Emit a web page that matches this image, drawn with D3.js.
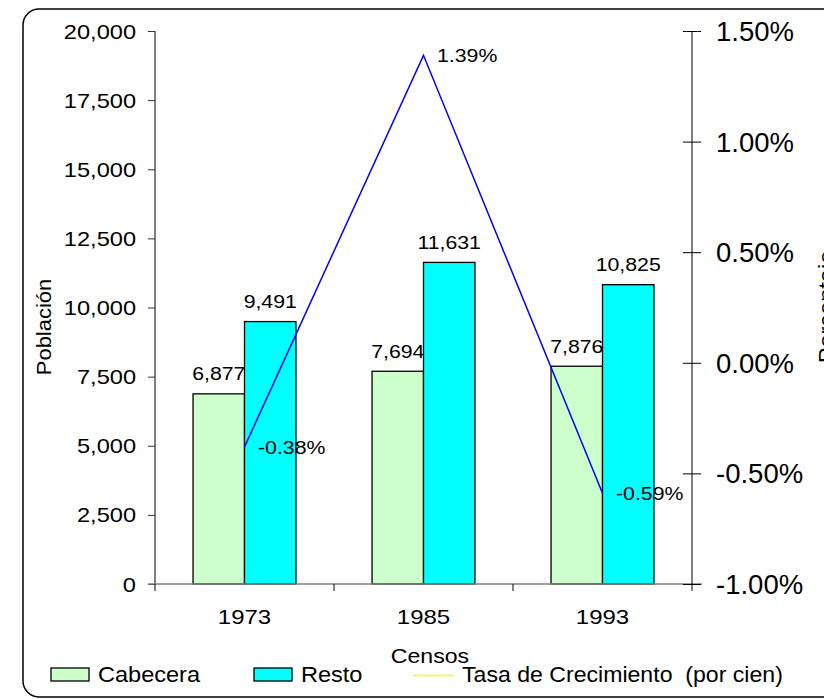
<!DOCTYPE html>
<html><head><meta charset="utf-8">
<script src="https://cdn.jsdelivr.net/npm/d3@7"></script>
<style>body{margin:0;background:#fff}svg{display:block;font-family:"Liberation Sans",Arial,sans-serif}</style>
</head><body>
<svg id="c" width="824" height="699"></svg>
<script>
const years = ["1973","1985","1993"];
const seriesNames = ["Cabecera","Resto"];
const cabecera = [6877, 7694, 7876];
const resto = [9491, 11631, 10825];
const tasa = [-0.38, 1.39, -0.59];
const leftTicks = [0,2500,5000,7500,10000,12500,15000,17500,20000];
const rightTicks = [-1.0,-0.5,0,0.5,1.0,1.5];
const colors = {Cabecera:"#CCFFCC", Resto:"#00FFFF"};

const svg = d3.select("#c");
const L=155, R=692, T=31, B=584;
const x0 = d3.scaleBand().domain(years).range([L,R]);
const bw = x0.bandwidth();
const x1 = d3.scaleBand().domain(seriesNames).range([bw*0.2125, bw*0.7875]);
const yL = d3.scaleLinear().domain([0,20000]).range([B,T]);
const yR = d3.scaleLinear().domain([-1,1.5]).range([B,T]);
const fmt = d3.format(",");
const pct = d => (d<0?"-":"") + Math.abs(d).toFixed(2) + "%";

function txt(g, x, y, s, size, k, anchor, rot){
  return g.append("text").attr("transform",`translate(${x},${y})${rot?` rotate(${rot})`:""} scale(${k},1)`)
    .attr("font-size",size).attr("text-anchor",anchor||"start").attr("fill","#000").text(s);
}

// outer border
svg.append("rect").attr("x",23).attr("y",9).attr("width",840).attr("height",688).attr("rx",16)
  .attr("fill","none").attr("stroke","#000").attr("stroke-width",1.5);

// bars
const data = years.map((y,i)=>({year:y, Cabecera:cabecera[i], Resto:resto[i]}));
const g = svg.append("g");
data.forEach(d=>{
  seriesNames.forEach(s=>{
    const xx = x0(d.year)+x1(s);
    g.append("rect").attr("x",xx).attr("y",yL(d[s])).attr("width",x1.bandwidth()).attr("height",B-yL(d[s]))
      .attr("fill",colors[s]).attr("stroke","#000").attr("stroke-width",1.3);
    txt(g, xx+x1.bandwidth()/2, yL(d[s])-13.5, fmt(d[s]), 18.5, 1.15, "middle");
  });
});

// left axis
const la = svg.append("g").attr("transform",`translate(${L},0)`)
  .call(d3.axisLeft(yL).tickValues(leftTicks).tickSize(7).tickFormat(""));
la.select(".domain").attr("stroke","#000").attr("d",`M0,${T}V${B}`);
la.selectAll(".tick line").attr("stroke","#333");
leftTicks.forEach(v=>{ txt(svg, 136, yL(v)+7.5, fmt(v), 20, 1.18, "end"); });

// bottom axis
svg.append("line").attr("x1",148).attr("x2",702).attr("y1",B).attr("y2",B).attr("stroke","#808080").attr("stroke-width",1.5);
const bt = years.map(y=>x0(y)).concat([R]);
bt.forEach(xv=>{ svg.append("line").attr("x1",xv).attr("x2",xv).attr("y1",B).attr("y2",B+7).attr("stroke","#000"); });
years.forEach(y=>{ txt(svg, x0(y)+bw/2, 624, y, 20, 1.2, "middle"); });

// right axis
const ra = svg.append("g").attr("transform",`translate(${R},0)`)
  .call(d3.axisRight(yR).tickValues(rightTicks).tickSize(9).tickFormat(""));
ra.select(".domain").attr("stroke","#000").attr("d",`M0,${T}V${B}`);
ra.selectAll(".tick line").attr("x1",-9).attr("stroke","#000");
rightTicks.forEach(v=>{ txt(svg, 716, yR(v)+10, pct(v), 27.5, 1.0, "start"); });

// line
const line = d3.line().x((d,i)=>x0(years[i])+bw/2).y(d=>yR(d));
svg.append("path").datum(tasa).attr("d",line).attr("fill","none").attr("stroke","#0000FF").attr("stroke-width",1.5);
tasa.forEach((v,i)=>{ txt(svg, x0(years[i])+bw/2+13.5, yR(v)+7, pct(v), 18.5, 1.15, "start"); });

// axis titles
txt(svg, 51, 327, "Población", 20.5, 1.07, "middle", -90);
txt(svg, 834, 307, "Porcentaje", 22, 1.07, "middle", -90);
txt(svg, 430, 663, "Censos", 21, 1.1, "middle");

// legend
const lg = svg.append("g");
lg.append("rect").attr("x",51).attr("y",668).attr("width",38).attr("height",13).attr("fill",colors.Cabecera).attr("stroke","#000").attr("stroke-width",1.3);
txt(lg, 98, 682, "Cabecera", 22, 1.07, "start");
lg.append("rect").attr("x",254).attr("y",668).attr("width",38).attr("height",13).attr("fill",colors.Resto).attr("stroke","#000").attr("stroke-width",1.3);
txt(lg, 301, 682, "Resto", 22, 1.07, "start");
lg.append("line").attr("x1",413).attr("x2",454).attr("y1",675.5).attr("y2",675.5).attr("stroke","#FFFF00").attr("stroke-width",1.5);
txt(lg, 462, 682, "Tasa de Crecimiento  (por cien)", 22, 1.05, "start").attr("xml:space","preserve").style("white-space","pre");
</script>
</body></html>
